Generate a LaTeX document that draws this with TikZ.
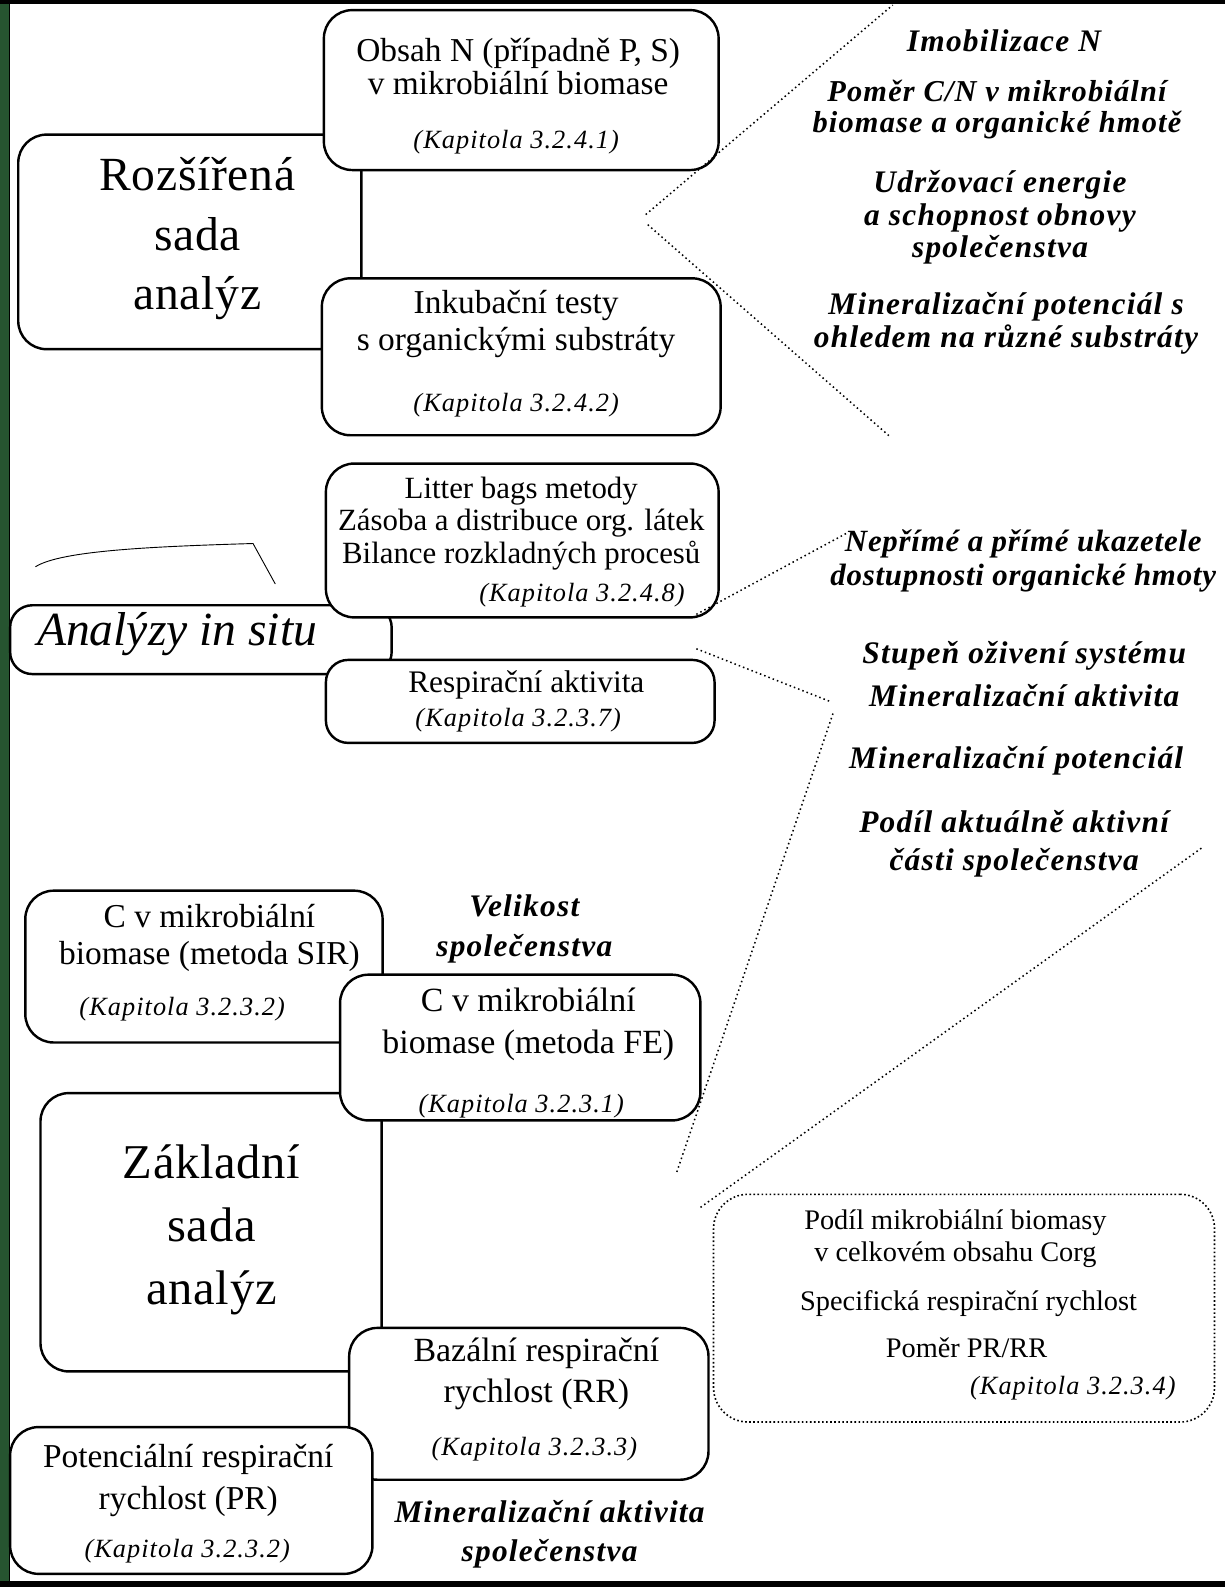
\documentclass[tikz,border=0pt]{standalone}
\usepackage{fontspec}
\setmainfont{Liberation Serif}
\newfontfamily\spacedfont[LetterSpace=1.5]{Liberation Serif}
\newfontfamily\notefont[LetterSpace=4]{Liberation Serif}
\newfontfamily\tightnotefont[LetterSpace=2.5]{Liberation Serif}
\newfontfamily\kapfont[LetterSpace=4]{Liberation Serif}
\usetikzlibrary{positioning}
\definecolor{stripgreen}{RGB}{38,84,48}

\tikzset{
  box/.style={draw, line width=2.4pt, rounded corners=28pt, fill=white, inner sep=0pt},
  dotbox/.style={draw, line width=1.6pt, dash pattern=on 1.6pt off 2.4pt, rounded corners=34pt, inner sep=0pt},
  txt/.style={font=\fontsize{33}{35}\selectfont, align=center, inner sep=0pt},
  kap/.style={font=\fontsize{26}{28}\selectfont\kapfont\itshape, inner sep=0pt},
  big/.style={font=\fontsize{47}{59}\selectfont\spacedfont, align=center, inner sep=0pt},
  note/.style={font=\fontsize{31}{33}\selectfont\notefont\bfseries\itshape, align=center, inner sep=0pt},
  dotline/.style={line width=1.5pt, dash pattern=on 1.5pt off 3pt},
}

\begin{document}
\begin{tikzpicture}[x=1pt, y=-1pt]
\useasboundingbox (0,0) rectangle (1210,1568);

% frame of the sheet
\fill[stripgreen] (0,0) rectangle (9,1568);
\draw[line width=1.5pt] (9.5,0) -- (9.5,1568);
\fill[black] (0,0) rectangle (1210,4);
\fill[black] (0,1562) rectangle (1210,1568);

% ---------- extended set of analyses ----------
\node[box, minimum width=339pt, minimum height=212pt] (ext) at (187.5,239) {};
\node[box, minimum width=390pt, minimum height=158pt] (obsah) at (515,89) {};
\node[box, minimum width=394pt, minimum height=155pt] (inkub) at (515,352.5) {};
\node[big] (extT) at (195,236) {Rozšířená\\sada\\analýz};
\node[txt, font=\fontsize{33}{33}\selectfont] (obsahT) at (512,66) {Obsah N (případně P, S)\\v mikrobiální biomase};
\node[kap] (obsahK) at (510,140) {(Kapitola 3.2.4.1)};
\node[txt, font=\fontsize{33}{36}\selectfont] (inkubT) at (510,320) {Inkubační testy\\s organickými substráty};
\node[kap] (inkubK) at (510,400) {(Kapitola 3.2.4.2)};

% ---------- in situ analyses ----------
\node[box, rounded corners=22pt, minimum width=377pt, minimum height=68pt] (situ) at (198.5,632) {};
\node[box, minimum width=388pt, minimum height=152pt] (litter) at (516,534) {};
\node[box, rounded corners=22pt, minimum width=384pt, minimum height=82pt] (resp) at (514,693) {};
\node[font=\fontsize{47}{50}\selectfont\itshape, inner sep=0pt] (situT) at (175,627) {Analýzy in situ};
\node[txt, font=\fontsize{30.5}{32}\selectfont] (litterT) at (515,517) {Litter bags metody\\Zásoba a distribuce org. látek\\Bilance rozkladných procesů};
\node[kap] (litterK) at (575,588) {(Kapitola 3.2.4.8)};
\node[txt, font=\fontsize{31}{33}\selectfont] (respT) at (520,677) {Respirační aktivita};
\node[kap] (respK) at (512,712) {(Kapitola 3.2.3.7)};
\coordinate (hookA) at (35,560);
\coordinate (hookB) at (250,537);
\coordinate (hookC) at (272,577);
\draw[line width=0.9pt] (hookA) .. controls (60,544) and (150,540) .. (hookB) -- (hookC);

% ---------- basic set of analyses ----------
\node[box, minimum width=353pt, minimum height=150pt] (sir) at (201.5,955) {};
\node[box, minimum width=337pt, minimum height=275pt] (zakl) at (208.5,1217.5) {};
\node[box, minimum width=356pt, minimum height=144pt] (fe) at (514,1035) {};
\node[box, minimum width=355pt, minimum height=150pt] (baz) at (522.5,1387) {};
\node[box, minimum width=358pt, minimum height=145pt] (pot) at (189,1482.5) {};
\node[txt, font=\fontsize{33}{37}\selectfont] (sirT) at (207,926.5) {C v mikrobiální\\biomase (metoda SIR)};
\node[kap] (sirK) at (180,997) {(Kapitola 3.2.3.2)};
\node[txt, font=\fontsize{33.5}{41}\selectfont] (feT) at (522,1012) {C v mikrobiální\\biomase (metoda FE)};
\node[kap] (feK) at (515,1093) {(Kapitola 3.2.3.1)};
\node[big, font=\fontsize{48}{62}\selectfont\spacedfont] (zaklT) at (209,1215) {Základní\\sada\\analýz};
\node[txt, font=\fontsize{33.5}{41}\selectfont] (bazT) at (530,1357.5) {Bazální respirační\\rychlost (RR)};
\node[kap] (bazK) at (528,1432) {(Kapitola 3.2.3.3)};
\node[txt, font=\fontsize{33}{41}\selectfont] (potT) at (186,1462.5) {Potenciální respirační\\rychlost (PR)};
\node[kap] (potK) at (185,1533) {(Kapitola 3.2.3.2)};
\node[note, font=\fontsize{31}{40}\selectfont\notefont\bfseries\itshape] (velT) at (518,918) {Velikost\\společenstva};
\node[note, font=\fontsize{31}{38}\selectfont\notefont\bfseries\itshape] (minT) at (543,1516) {Mineralizační aktivita\\společenstva};

% derived indices
\node[dotbox, minimum width=495pt, minimum height=225pt] (podil) at (952.5,1292.5) {};
\node[txt, font=\fontsize{28}{32}\selectfont] (podilT) at (944,1224) {Podíl mikrobiální biomasy\\v celkovém obsahu Corg};
\node[txt, font=\fontsize{28}{32}\selectfont] (specT) at (957,1288) {Specifická respirační rychlost};
\node[txt, font=\fontsize{28}{32}\selectfont] (pomT) at (955,1332) {Poměr PR/RR};
\node[kap] (podilK) at (1060,1372) {(Kapitola 3.2.3.4)};

% ---------- interpretation notes ----------
\node[note] (n1) at (992,40) {Imobilizace N};
\node[note, font=\fontsize{30}{31}\selectfont\notefont\bfseries\itshape] (n2) at (985,108) {Poměr C/N v mikrobiální\\biomase a organické hmotě};
\node[note, font=\fontsize{31}{32}\selectfont\notefont\bfseries\itshape] (n3) at (988,215) {Udržovací energie\\a schopnost obnovy\\společenstva};
\node[note] (n4) at (994,319.5) {Mineralizační potenciál s\\ohledem na různé substráty};
\node[note, font=\fontsize{30.5}{34}\selectfont\tightnotefont\bfseries\itshape] (n5) at (1011,554) {Nepřímé a přímé ukazetele\\dostupnosti organické hmoty};
\node[note, font=\fontsize{31}{42}\selectfont\notefont\bfseries\itshape] (n6) at (1012,666) {Stupeň oživení systému\\Mineralizační aktivita};
\node[note] (n7) at (1004,752) {Mineralizační potenciál};
\node[note, font=\fontsize{31}{37}\selectfont\notefont\bfseries\itshape] (n8) at (1002,833.5) {Podíl aktuálně aktivní\\části společenstva};

% dotted guide lines
\coordinate (g1a) at (638,212);
\coordinate (g1b) at (882,5);
\coordinate (g2a) at (640,222);
\coordinate (g2b) at (880,432);
\coordinate (g3a) at (688,607);
\coordinate (g3b) at (838,526);
\coordinate (g4a) at (688,641);
\coordinate (g4b) at (820,693);
\coordinate (g5a) at (823,705);
\coordinate (g5b) at (668,1160);
\coordinate (g6a) at (1187,838);
\coordinate (g6b) at (692,1193);
\draw[dotline] (g1a) -- (g1b);
\draw[dotline] (g2a) -- (g2b);
\draw[dotline] (g3a) -- (g3b);
\draw[dotline] (g4a) -- (g4b);
\draw[dotline] (g5a) -- (g5b);
\draw[dotline] (g6a) -- (g6b);
\end{tikzpicture}
\end{document}
